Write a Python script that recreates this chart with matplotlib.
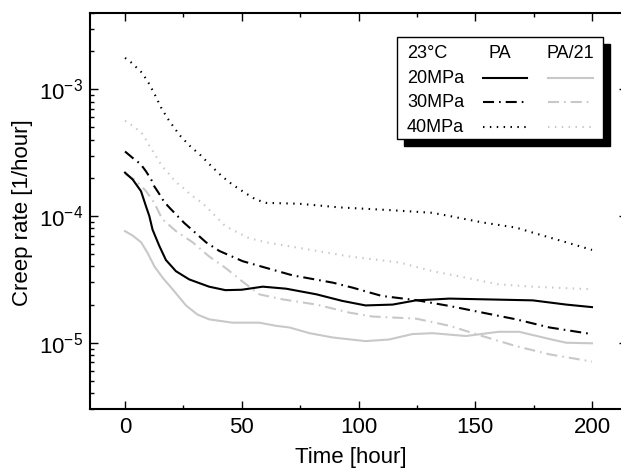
import matplotlib
matplotlib.use("Agg")
import matplotlib.pyplot as plt
from matplotlib.patches import Rectangle
from matplotlib.ticker import LogLocator, MultipleLocator

plt.rcParams['font.family'] = ['Liberation Sans', 'DejaVu Sans']
plt.rcParams['mathtext.fontset'] = 'custom'
plt.rcParams['mathtext.rm'] = 'Liberation Sans'
plt.rcParams['mathtext.it'] = 'Liberation Sans:italic'
plt.rcParams['mathtext.bf'] = 'Liberation Sans:bold'
plt.rcParams['font.size'] = 16

# ---- data ----
t_pa20 = [0, 3.3, 6.85, 9, 10.4, 11.8, 14.7, 17.5, 21.8, 27.5, 36, 43, 50, 59, 69, 82, 93, 103,
          114.6, 124.6, 139, 174.6, 189, 200]
r_pa20 = [2.2e-4, 1.94e-4, 1.57e-4, 1.19e-4, 1.0e-4, 7.8e-5, 5.8e-5, 4.5e-5, 3.67e-5, 3.16e-5,
          2.77e-5, 2.6e-5, 2.62e-5, 2.77e-5, 2.67e-5, 2.41e-5, 2.14e-5, 1.97e-5, 2.0e-5, 2.16e-5,
          2.23e-5, 2.16e-5, 2.0e-5, 1.91e-5]

t_pa30 = [0, 4, 6.6, 9, 11.2, 12.5, 14.4, 16.8, 19.3, 21.8, 25.4, 28.3, 34.7, 40.4, 50.4, 60.4,
          71.8, 89, 97.5, 110, 124.6, 139, 153, 167.5, 181.8, 200]
r_pa30 = [3.23e-4, 2.8e-4, 2.58e-4, 2.25e-4, 1.94e-4, 1.72e-4, 1.52e-4, 1.29e-4, 1.15e-4, 1.03e-4,
          8.8e-5, 7.9e-5, 6.2e-5, 5.3e-5, 4.4e-5, 3.9e-5, 3.4e-5, 2.98e-5, 2.72e-5, 2.34e-5,
          2.17e-5, 1.95e-5, 1.73e-5, 1.53e-5, 1.32e-5, 1.17e-5]

t_pa40 = [0, 2.6, 7.3, 10.4, 13, 15.4, 18.2, 23.3, 27.8, 32.5, 37, 41.5, 46, 51, 56, 60.4, 74.6,
          91.8, 114.6, 131.6, 139, 153, 167.5, 174.6, 189, 200]
r_pa40 = [1.77e-3, 1.63e-3, 1.35e-3, 1.1e-3, 8.9e-4, 7.2e-4, 5.9e-4, 4.36e-4, 3.57e-4, 3.0e-4,
          2.47e-4, 2.06e-4, 1.77e-4, 1.54e-4, 1.35e-4, 1.27e-4, 1.25e-4, 1.17e-4, 1.11e-4,
          1.06e-4, 1.0e-4, 8.9e-5, 8.1e-5, 7.4e-5, 6.2e-5, 5.4e-5]

t_pa21_20 = [0, 3.3, 6.9, 9.7, 12.6, 16.1, 20.4, 26.1, 31, 36, 46, 57.5, 64.7, 70.4, 79, 89, 103,
             113, 123, 131.7, 146, 160, 168.8, 181.8, 189, 200]
r_pa21_20 = [7.6e-5, 7.0e-5, 6.2e-5, 5.1e-5, 4.0e-5, 3.26e-5, 2.64e-5, 1.97e-5, 1.67e-5, 1.53e-5,
             1.44e-5, 1.44e-5, 1.36e-5, 1.32e-5, 1.19e-5, 1.1e-5, 1.03e-5, 1.06e-5, 1.17e-5,
             1.19e-5, 1.13e-5, 1.22e-5, 1.22e-5, 1.07e-5, 1.0e-5, 9.9e-6]

t_pa21_30 = [0, 4, 6.4, 9, 11.6, 13.3, 14.7, 16.1, 21.8, 29, 36, 43, 50, 57.5, 67.5, 82, 96, 106,
             124.6, 139, 153, 167.5, 181.8, 200]
r_pa21_30 = [2.15e-4, 1.94e-4, 1.77e-4, 1.57e-4, 1.35e-4, 1.19e-4, 1.05e-4, 9.4e-5, 7.6e-5, 6.2e-5,
             4.8e-5, 3.9e-5, 3.07e-5, 2.41e-5, 2.2e-5, 2.0e-5, 1.73e-5, 1.61e-5, 1.55e-5, 1.36e-5,
             1.13e-5, 9.4e-6, 8.1e-6, 7.1e-6]

t_pa21_40 = [0, 2.6, 5, 7.3, 9, 10.4, 11.8, 13.3, 14.7, 16.5, 18.5, 20.7, 23, 25.4, 27.6, 30, 32.5,
             34.7, 43, 53, 60.4, 74.6, 96, 117.5, 131.7, 146, 160, 174.6, 200]
r_pa21_40 = [5.65e-4, 5.25e-4, 4.86e-4, 4.47e-4, 4.0e-4, 3.59e-4, 3.28e-4, 2.96e-4, 2.67e-4, 2.4e-4,
             2.19e-4, 1.96e-4, 1.77e-4, 1.64e-4, 1.5e-4, 1.39e-4, 1.29e-4, 1.19e-4, 8.3e-5, 6.7e-5,
             6.2e-5, 5.6e-5, 4.8e-5, 4.3e-5, 3.67e-5, 3.26e-5, 2.89e-5, 2.77e-5, 2.64e-5]

x_ticks = [0, 50, 100, 150, 200]
legend_rows = ["20MPa", "30MPa", "40MPa"]
legend_cols = ["PA", "PA/21"]
legend_title = "23°C"

# ---- figure ----
W, H = 621, 468
fig = plt.figure(figsize=(W / 100, H / 100), dpi=100)
ax_l, ax_r, ax_t, ax_b = 90, 627, 13, 409
ax = fig.add_axes([ax_l / W, (H - ax_b) / H, (ax_r - ax_l) / W, (ax_b - ax_t) / H])

BLACK = 'black'
GRAY = '#c8c8c8'
LW = 1.5
solid = '-'
dashdot = (0, (5.3, 2.4, 0.8, 2.4))
dotted = (0, (0.7, 2.6))

ax.plot(t_pa21_20, r_pa21_20, color=GRAY, lw=LW, ls=solid)
ax.plot(t_pa21_30, r_pa21_30, color=GRAY, lw=LW, ls=dashdot)
ax.plot(t_pa21_40, r_pa21_40, color=GRAY, lw=LW, ls=dotted)
ax.plot(t_pa20, r_pa20, color=BLACK, lw=LW, ls=solid)
ax.plot(t_pa30, r_pa30, color=BLACK, lw=LW, ls=dashdot)
ax.plot(t_pa40, r_pa40, color=BLACK, lw=LW, ls=dotted)

ax.set_yscale('log')
ax.set_xlim(-15, 215)
ax.set_ylim(3e-6, 4e-3)
ax.set_xticks(x_ticks)
ax.xaxis.set_minor_locator(MultipleLocator(25))
ax.yaxis.set_major_locator(LogLocator(base=10, numticks=10))
ax.yaxis.set_minor_locator(LogLocator(base=10, subs=range(2, 10), numticks=20))

ax.tick_params(which='both', direction='in', top=True, right=True, width=1.0, labelsize=16)
ax.tick_params(which='major', length=5.8)
ax.tick_params(which='minor', length=2.9)
ax.tick_params(axis='x', which='both', pad=6)
ax.tick_params(axis='y', which='both', pad=5)
for s in ax.spines.values():
    s.set_linewidth(1.5)


def fx(px):
    return (px - ax_l) / (ax_r - ax_l)


def fy(py):
    return (ax_b - py) / (ax_b - ax_t)


ax.set_xlabel('Time [hour]', fontsize=16)
ax.xaxis.set_label_coords(fx(351), fy(457), transform=ax.transAxes)
ax.xaxis.label.set_va('center')
ax.set_ylabel('Creep rate [1/hour]', fontsize=16)
ax.yaxis.set_label_coords(fx(23), fy(213), transform=ax.transAxes)
ax.yaxis.label.set_va('center')

# ---- custom table-like legend ----
bx0, bx1, by0, by1 = 397, 603, 37, 139
sh = 7
ax.add_patch(Rectangle((fx(bx0 + sh), fy(by1 + sh)), fx(bx1) - fx(bx0), fy(by0) - fy(by1),
                       transform=ax.transAxes, facecolor='black', edgecolor='black',
                       zorder=5, clip_on=False))
ax.add_patch(Rectangle((fx(bx0), fy(by1)), fx(bx1) - fx(bx0), fy(by0) - fy(by1),
                       transform=ax.transAxes, facecolor='white', edgecolor='black', lw=1.0,
                       zorder=6, clip_on=False))

row_y = [53, 78.5, 102.5, 127]
col_c = [500, 570]
samp = [(483, 527), (548, 593)]
LFS = 13
ax.text(fx(407), fy(row_y[0]), legend_title, transform=ax.transAxes, va='center', ha='left',
        zorder=7, fontsize=LFS)
for c, name in zip(col_c, legend_cols):
    ax.text(fx(c), fy(row_y[0]), name, transform=ax.transAxes, va='center', ha='center',
            zorder=7, fontsize=LFS)
styles = [solid, dashdot, dotted]
for i, (lab, ls) in enumerate(zip(legend_rows, styles)):
    yy = row_y[i + 1]
    ax.text(fx(407), fy(yy), lab, transform=ax.transAxes, va='center', ha='left', zorder=7,
            fontsize=LFS)
    for (a, b), col in zip(samp, [BLACK, GRAY]):
        ax.plot([fx(a), fx(b)], [fy(yy - 0.5), fy(yy - 0.5)], transform=ax.transAxes,
                color=col, lw=LW, ls=ls, zorder=7, clip_on=False)

fig.savefig('out.png', dpi=100)
